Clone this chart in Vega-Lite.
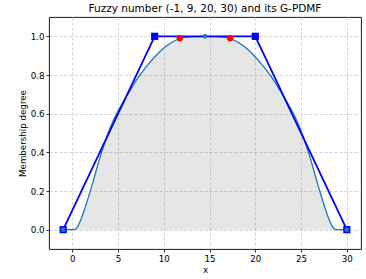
{
  "$schema": "https://vega.github.io/schema/vega-lite/v6.json",
  "width": 312,
  "height": 232,
  "autosize": {"type": "none"},
  "padding": {"left": 49, "top": 17, "right": 5, "bottom": 30},
  "background": "white",
  "title": {
    "text": "Fuzzy number (-1, 9, 20, 30) and its G-PDMF",
    "font": "DejaVu Sans",
    "fontSize": 10.5,
    "fontWeight": "normal",
    "color": "black",
    "offset": 3
  },
  "config": {
    "view": {"stroke": "black", "strokeWidth": 0.9},
    "axis": {
      "labelFont": "DejaVu Sans",
      "labelFontSize": 8.7,
      "labelColor": "black",
      "titleFont": "DejaVu Sans",
      "titleFontSize": 8.7,
      "titleFontWeight": "normal",
      "titleColor": "black",
      "tickColor": "black",
      "tickSize": 3,
      "tickWidth": 0.8,
      "labelPadding": 2,
      "domain": false,
      "grid": true,
      "gridColor": "#c8c8c8",
      "gridDash": [3, 2],
      "gridWidth": 0.8
    }
  },
  "datasets": {
    "curve": [
      {"x": -1, "y": 0}, {"x": 0, "y": 0}, {"x": 0.3, "y": 0.002}, {"x": 0.6, "y": 0.017},
      {"x": 1.0, "y": 0.06}, {"x": 1.4, "y": 0.115}, {"x": 1.8, "y": 0.175}, {"x": 2.2, "y": 0.238},
      {"x": 2.6, "y": 0.305}, {"x": 3.0, "y": 0.37}, {"x": 3.4, "y": 0.43}, {"x": 3.8, "y": 0.485},
      {"x": 4.2, "y": 0.535}, {"x": 4.6, "y": 0.578}, {"x": 5.0, "y": 0.615}, {"x": 5.5, "y": 0.656},
      {"x": 6.0, "y": 0.696}, {"x": 6.5, "y": 0.735}, {"x": 7.0, "y": 0.773}, {"x": 7.5, "y": 0.807},
      {"x": 8.0, "y": 0.838}, {"x": 8.5, "y": 0.866}, {"x": 9.0, "y": 0.893}, {"x": 9.5, "y": 0.918},
      {"x": 10.0, "y": 0.94}, {"x": 10.5, "y": 0.957}, {"x": 11.0, "y": 0.972}, {"x": 11.75, "y": 0.99},
      {"x": 12.5, "y": 0.996}, {"x": 13.5, "y": 0.999}, {"x": 14.5, "y": 1.0},
      {"x": 15.5, "y": 0.999}, {"x": 16.5, "y": 0.996}, {"x": 17.25, "y": 0.99}, {"x": 18.0, "y": 0.972},
      {"x": 18.5, "y": 0.957}, {"x": 19.0, "y": 0.94}, {"x": 19.5, "y": 0.918}, {"x": 20.0, "y": 0.893},
      {"x": 20.5, "y": 0.866}, {"x": 21.0, "y": 0.838}, {"x": 21.5, "y": 0.807}, {"x": 22.0, "y": 0.773},
      {"x": 22.5, "y": 0.735}, {"x": 23.0, "y": 0.696}, {"x": 23.5, "y": 0.656}, {"x": 24.0, "y": 0.615},
      {"x": 24.4, "y": 0.578}, {"x": 24.8, "y": 0.535}, {"x": 25.2, "y": 0.485}, {"x": 25.6, "y": 0.43},
      {"x": 26.0, "y": 0.37}, {"x": 26.4, "y": 0.305}, {"x": 26.8, "y": 0.238}, {"x": 27.2, "y": 0.175},
      {"x": 27.6, "y": 0.115}, {"x": 28.0, "y": 0.06}, {"x": 28.4, "y": 0.017}, {"x": 28.7, "y": 0.002},
      {"x": 29, "y": 0}, {"x": 30, "y": 0}
    ],
    "trap": [
      {"x": -1, "y": 0}, {"x": 9, "y": 1}, {"x": 20, "y": 1}, {"x": 30, "y": 0}
    ],
    "cdots": [
      {"x": -1, "y": 0}, {"x": 14.5, "y": 1}, {"x": 30, "y": 0}
    ],
    "rdots": [
      {"x": 11.75, "y": 0.99}, {"x": 17.25, "y": 0.99}
    ]
  },
  "encoding": {
    "x": {
      "field": "x", "type": "quantitative",
      "scale": {"domain": [-2.55, 31.55], "nice": false, "zero": false},
      "axis": {"title": "x", "values": [0, 5, 10, 15, 20, 25, 30], "format": "d", "titlePadding": 3}
    },
    "y": {
      "field": "y", "type": "quantitative",
      "scale": {"domain": [-0.1, 1.1], "nice": false, "zero": false},
      "axis": {"title": "Membership degree", "values": [0, 0.2, 0.4, 0.6, 0.8, 1.0], "format": ".1f", "titlePadding": 3}
    }
  },
  "layer": [
    {
      "data": {"name": "curve"},
      "mark": {"type": "area", "color": "gray", "opacity": 0.2, "interpolate": "monotone"},
      "encoding": {"y2": {"datum": 0}}
    },
    {
      "data": {"name": "curve"},
      "mark": {"type": "line", "color": "#1f77b4", "strokeWidth": 1.3, "interpolate": "monotone"}
    },
    {
      "data": {"name": "trap"},
      "mark": {"type": "line", "color": "#0000ff", "strokeWidth": 1.8}
    },
    {
      "data": {"name": "trap"},
      "mark": {"type": "point", "shape": "square", "filled": true, "color": "#0000ff", "size": 52, "opacity": 1}
    },
    {
      "data": {"name": "cdots"},
      "mark": {"type": "point", "shape": "circle", "filled": true, "color": "#1f77b4", "size": 22, "opacity": 1}
    },
    {
      "data": {"name": "rdots"},
      "mark": {"type": "point", "shape": "circle", "filled": true, "color": "#ff0000", "size": 40, "opacity": 1}
    }
  ]
}
